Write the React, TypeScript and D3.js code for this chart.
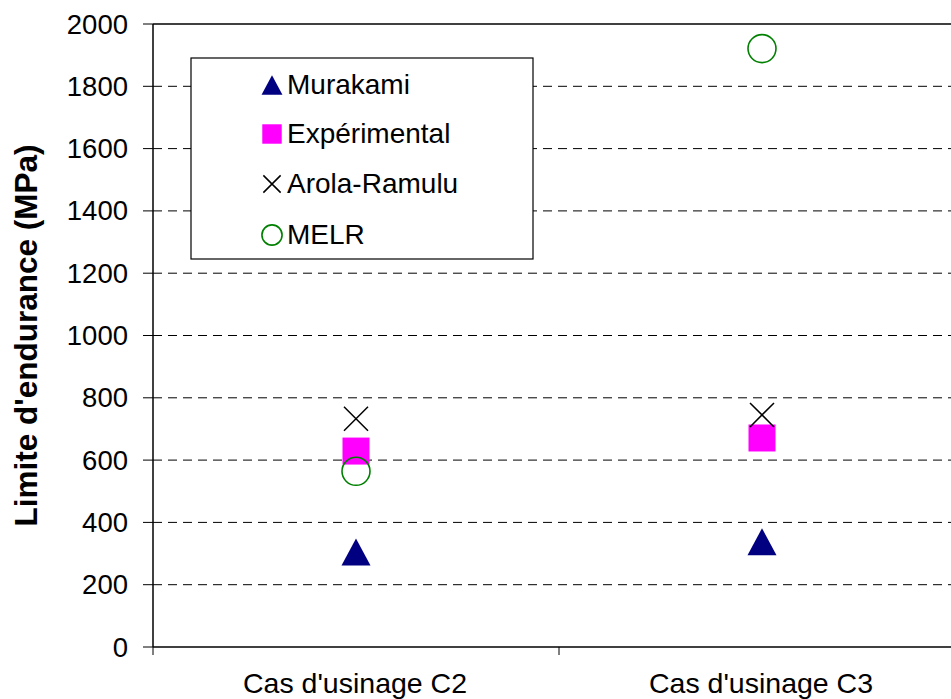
import React from "react";
import * as d3 from "d3";

const categories = ["Cas d'usinage C2", "Cas d'usinage C3"];
const murakami = [305, 338];
const experimental = [629, 671];
const arolaRamulu = [733, 745];
const melr = [564, 1921];
const yTicks = [0, 200, 400, 600, 800, 1000, 1200, 1400, 1600, 1800, 2000];
const legendLabels = ["Murakami", "Expérimental", "Arola-Ramulu", "MELR"];

const W = 951;
const H = 699;
const FONT = "Arial, 'Liberation Sans', sans-serif";

function Marker({ kind, cx, cy, s }: { kind: string; cx: number; cy: number; s: number }) {
  if (kind === "tri") {
    const w = 14.5 * s, h = 13.5 * s;
    return (
      <path
        d={`M${cx},${cy - h}L${cx + w},${cy + h}L${cx - w},${cy + h}Z`}
        fill="#000080"
      />
    );
  }
  if (kind === "sq") {
    const a = 13.5 * s;
    return <rect x={cx - a} y={cy - a} width={2 * a} height={2 * a} fill="#FF00FF" />;
  }
  if (kind === "x") {
    const a = 12 * s;
    return (
      <path
        d={`M${cx - a},${cy - a}L${cx + a},${cy + a}M${cx + a},${cy - a}L${cx - a},${cy + a}`}
        stroke="#000"
        strokeWidth={1.5}
        fill="none"
      />
    );
  }
  return <circle cx={cx} cy={cy} r={14 * s} fill="none" stroke="#008000" strokeWidth={1.6} />;
}

export default function App() {
  const left = 153, right = 965, top = 24, bottom = 647;
  const x = d3.scaleBand<string>().domain(categories).range([left, right]).padding(0);
  const y = d3.scaleLinear().domain([0, 2000]).range([bottom, top]);
  const cx = (c: string) => (x(c) as number) + x.bandwidth() / 2;

  const series = [
    { kind: "tri", values: murakami },
    { kind: "sq", values: experimental },
    { kind: "x", values: arolaRamulu },
    { kind: "circ", values: melr },
  ];

  const catEdges = [left, ...categories.map((c) => (x(c) as number) + x.bandwidth())];

  const legX = 191, legY = 58, legW = 342, legH = 201;
  const legRows = [85, 134, 184, 235];

  return (
    <svg
      width={W}
      height={H}
      style={{ position: "absolute", left: 0, top: 0, background: "#fff" }}
      fontFamily={FONT}
    >
      <rect x={0} y={0} width={W} height={H} fill="#fff" />
      {/* gridlines */}
      {yTicks
        .filter((t) => t > 0 && t < 2000)
        .map((t) => (
          <line
            key={"g" + t}
            x1={left}
            x2={W}
            y1={y(t)}
            y2={y(t)}
            stroke="#000"
            strokeWidth={1}
            strokeDasharray="9,6"
          />
        ))}
      {/* top border */}
      <line x1={left} x2={W} y1={top} y2={top} stroke="#000" strokeWidth={1.5} />
      {/* y axis */}
      <line x1={left} x2={left} y1={top} y2={bottom} stroke="#000" strokeWidth={1.5} />
      {yTicks.map((t) => (
        <g key={"t" + t}>
          <line x1={left - 10} x2={left} y1={y(t)} y2={y(t)} stroke="#000" strokeWidth={1} />
          <text x={128} y={y(t) + 9.5} textAnchor="end" fontSize={27.5} fill="#000">
            {t}
          </text>
        </g>
      ))}
      {/* x axis */}
      <line x1={left} x2={W} y1={bottom} y2={bottom} stroke="#000" strokeWidth={1.5} />
      {catEdges.map((e, i) => (
        <line key={"xt" + i} x1={e} x2={e} y1={bottom} y2={bottom + 8} stroke="#000" strokeWidth={1} />
      ))}
      {categories.map((c) => (
        <text key={c} x={cx(c) - 1} y={693} textAnchor="middle" fontSize={28.5} fill="#000">
          {c}
        </text>
      ))}
      {/* y title */}
      <text
        transform={`translate(37, ${(top + bottom) / 2}) rotate(-90)`}
        textAnchor="middle"
        fontSize={31.5}
        fontWeight="bold"
        fill="#000"
      >
        Limite d'endurance (MPa)
      </text>
      {/* legend */}
      <rect x={legX} y={legY} width={legW} height={legH} fill="#fff" stroke="#000" strokeWidth={1.2} />
      {legendLabels.map((lab, i) => (
        <g key={lab}>
          <Marker kind={series[i].kind} cx={272} cy={legRows[i]} s={0.72} />
          <text x={287} y={legRows[i] + 9} fontSize={28} fill="#000">
            {lab}
          </text>
        </g>
      ))}
      {/* data markers */}
      {series.map((s) =>
        categories.map((c, j) => (
          <Marker key={s.kind + j} kind={s.kind} cx={cx(c)} cy={y(s.values[j])} s={1} />
        ))
      )}
    </svg>
  );
}
